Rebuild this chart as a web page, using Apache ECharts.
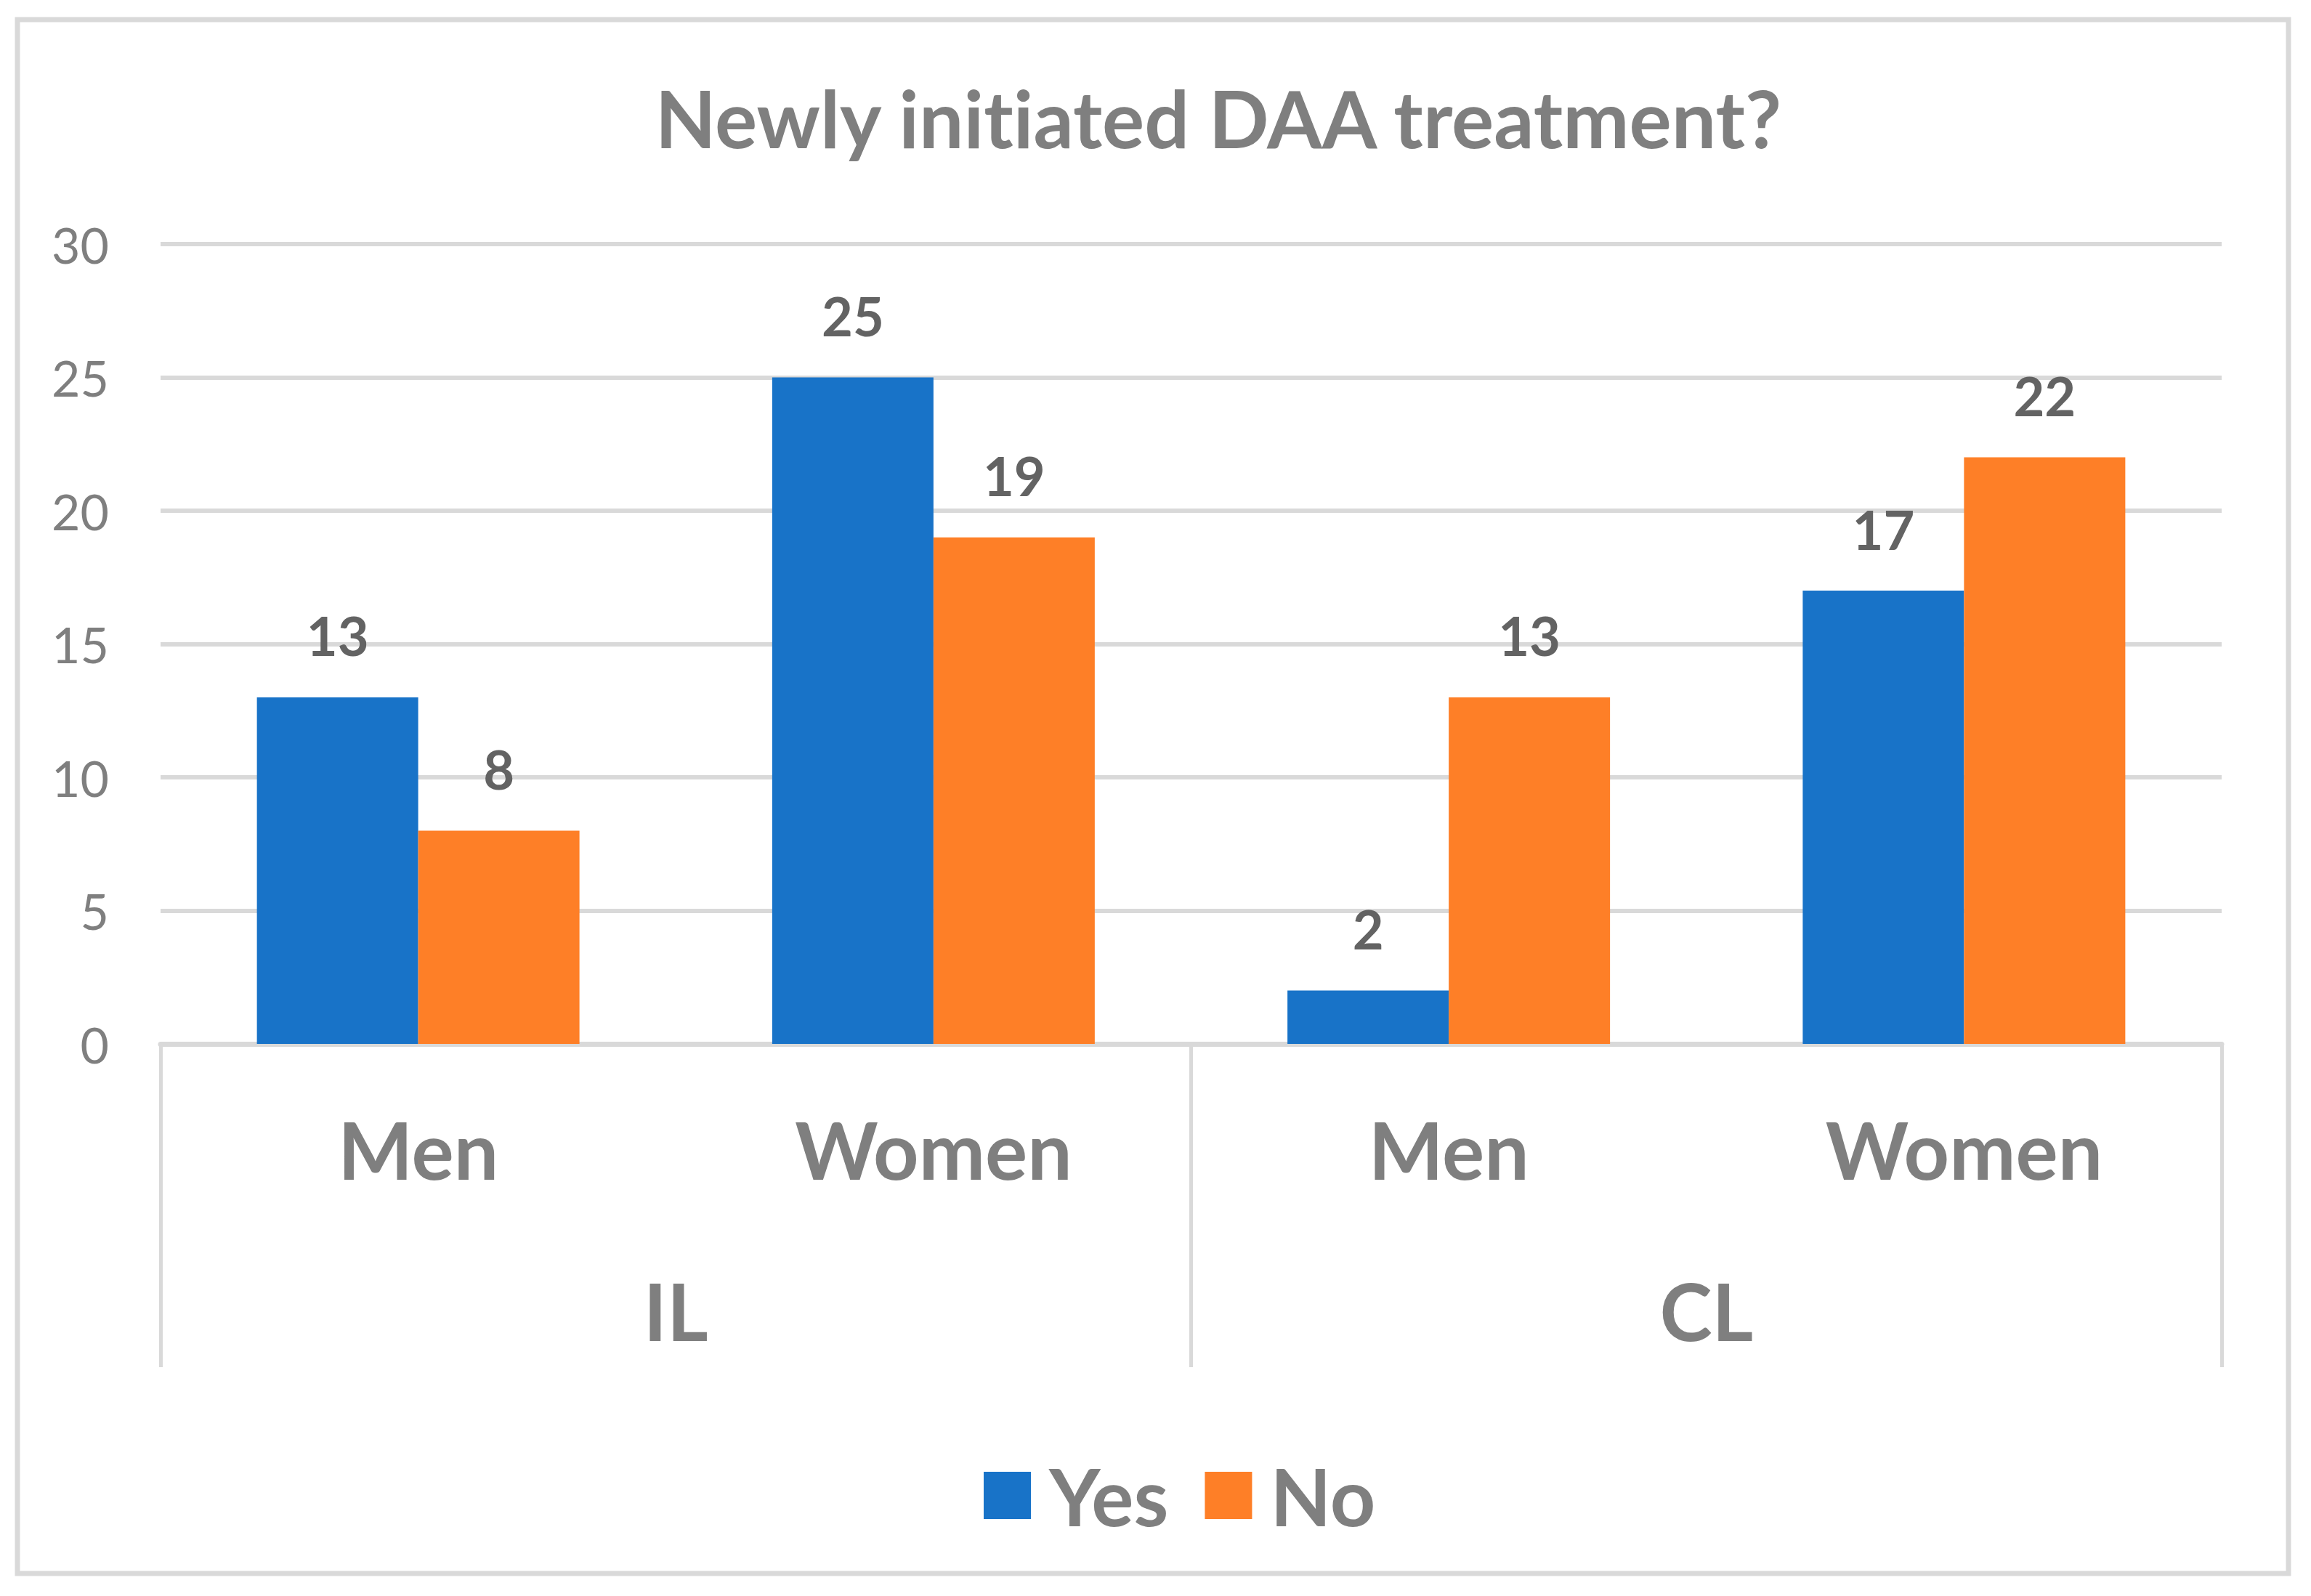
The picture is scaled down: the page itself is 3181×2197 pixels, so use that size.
<!DOCTYPE html>
<html>
<head>
<meta charset="utf-8">
<script src="https://cdn.jsdelivr.net/npm/echarts@6/dist/echarts.min.js"></script>
<style>
html,body{margin:0;padding:0;background:#fff;}
#chart{width:3181px;height:2197px;}
#chart text{font-variant-ligatures:none;}
</style>
</head>
<body>
<div id="chart"></div>
<script>
const titleText = 'Newly initiated DAA treatment?';
const categories = ['Men', 'Women', 'Men', 'Women'];
const groups = ['IL', 'CL'];
const seriesNames = ['Yes', 'No'];
const yesValues = [13, 25, 2, 17];
const noValues = [8, 19, 13, 22];
const yTicks = { min: 0, max: 30, interval: 5 };

const FONT = 'Lato';
const GREY = '#7f7f7f';
const LINE = '#d9d9d9';

const chart = echarts.init(document.getElementById('chart'), null, { renderer: 'svg' });
chart.setOption({
  backgroundColor: '#ffffff',
  animation: false,
  title: {
    text: titleText,
    left: 1672, top: 102,
    textAlign: 'center',
    textStyle: { fontFamily: FONT, fontSize: 109, fontWeight: 'bold', color: GREY }
  },
  graphic: [{
    type: 'rect',
    shape: { x: 24, y: 27, width: 3126, height: 2139 },
    style: { fill: 'none', stroke: LINE, lineWidth: 7 },
    silent: true, z: -1
  }],
  legend: {
    data: seriesNames,
    left: 1349, top: 1999,
    icon: 'rect',
    itemWidth: 65, itemHeight: 65,
    itemGap: 50,
    textStyle: { fontFamily: FONT, fontSize: 109, fontWeight: 'bold', color: GREY, padding: [0, 0, 0, 20] }
  },
  grid: { left: 221, right: 123, top: 336, bottom: 760, containLabel: false },
  xAxis: [{
    type: 'category',
    data: categories,
    position: 'bottom',
    axisLine: { show: true, lineStyle: { color: LINE, width: 7 } },
    axisTick: { show: false },
    axisLabel: { margin: 90, fontFamily: FONT, fontSize: 109, fontWeight: 'bold', color: GREY }
  }, {
    type: 'category',
    data: groups,
    position: 'bottom',
    offset: 0,
    axisLine: { show: false },
    axisTick: { show: true, length: 445, lineStyle: { color: LINE, width: 5 } },
    axisLabel: { margin: 312, fontFamily: FONT, fontSize: 109, fontWeight: 'bold', color: GREY }
  }],
  yAxis: {
    type: 'value',
    min: yTicks.min, max: yTicks.max, interval: yTicks.interval,
    axisLine: { show: false },
    axisTick: { show: false },
    splitLine: { show: true, lineStyle: { color: LINE, width: 6 } },
    axisLabel: { margin: 71, fontFamily: FONT, fontSize: 68, color: GREY }
  },
  series: [{
    name: seriesNames[0], type: 'bar', data: yesValues,
    barGap: '0%', barCategoryGap: '37.4%',
    itemStyle: { color: '#1873C8' },
    label: { show: true, position: 'top', distance: 48, fontFamily: FONT, fontSize: 74, fontWeight: 'bold', color: '#636363' }
  }, {
    name: seriesNames[1], type: 'bar', data: noValues,
    barGap: '0%', barCategoryGap: '37.4%',
    itemStyle: { color: '#FE7F27' },
    label: { show: true, position: 'top', distance: 48, fontFamily: FONT, fontSize: 74, fontWeight: 'bold', color: '#636363' }
  }]
});
</script>
</body>
</html>
